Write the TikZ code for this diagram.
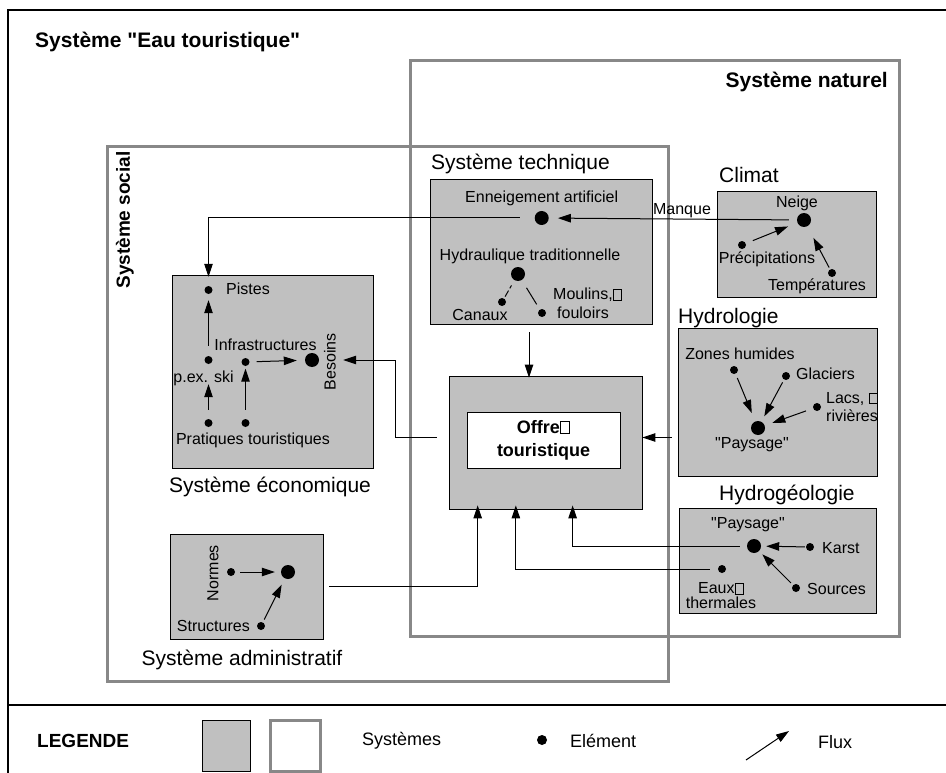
\documentclass[tikz,border=0pt]{standalone}
\usepackage{fontspec}
\setmainfont{Liberation Sans}[Ligatures=TeXOff]
\usetikzlibrary{arrows.meta,calc}
\definecolor{boxgray}{RGB}{192,192,192}
\definecolor{framegray}{RGB}{136,136,136}
% small empty box glyph printed after some words
\newcommand\ebox{{\fboxsep=0pt\fboxrule=0.06em\fbox{\rule{0pt}{0.62em}\rule{0.46em}{0pt}}}}
\newcommand\fsz[2]{\fontsize{#1}{#2}\selectfont}
\begin{document}
\begin{tikzpicture}[x=1pt,y=-1pt,
  every node/.style={inner sep=0pt},
  lbl/.style={font=\fsz{16}{19}},
  syslbl/.style={font=\fsz{21}{25}},
  leglbl/.style={font=\fsz{18}{21}},
  bigsys/.style={draw=framegray,line width=3pt,minimum width=#1},
  sysbox/.style={draw=black,line width=0.8pt,fill=boxgray,minimum width=#1},
  dot/.style={circle,fill=black,minimum size=8pt},
  bigdot/.style={circle,fill=black,minimum size=14pt},
  flow/.style={line width=1pt,-{Triangle[length=13pt,width=8.5pt]}},
  link/.style={line width=1pt}]
\useasboundingbox (0,0) rectangle (946,773);
\fill[white] (0,0) rectangle (946,773);

% outer frame and legend separator
\draw[line width=1.5pt] (8,773) -- (8,10) -- (946,10);
\draw[line width=2pt] (8,705) -- (946,705);
\node[anchor=west,font=\fsz{21}{25}\bfseries] (title) at (35,42) {Système "Eau touristique"};

% large systems
\node[bigsys=489pt,minimum height=575pt] (naturel) at (654.5,348.5) {};
\node[bigsys=561pt,minimum height=534pt] (social) at (387.5,414) {};
\node[anchor=east,font=\fsz{21}{25}\bfseries] (naturelT) at (888,82) {Système naturel};
\node[rotate=90,font=\fsz{19}{23}\bfseries] (socialT) at (125,220) {Système social};

% sub-systems
\node[sysbox=222pt,minimum height=145pt] (tech) at (541,251.5) {};
\node[sysbox=159pt,minimum height=106pt] (climat) at (796.5,244) {};
\node[sysbox=199pt,minimum height=148pt] (hydro) at (777.5,402) {};
\node[sysbox=197pt,minimum height=105pt] (hgeo) at (777.5,560.5) {};
\node[sysbox=201pt,minimum height=193pt] (eco) at (272.5,371.5) {};
\node[sysbox=153pt,minimum height=105pt] (admin) at (246.5,586.5) {};
\node[sysbox=193pt,minimum height=133pt] (offre) at (545.5,442.5) {};
\node[draw=black,line width=0.8pt,fill=white,minimum width=153pt,minimum height=56pt,
      align=center,font=\fsz{18}{23}\bfseries] (offreT) at (543.5,440) {Offre\ebox\\touristique};

\node[syslbl,anchor=west] (techT) at (431,164) {Système technique};
\node[syslbl,anchor=west] (climatT) at (719,175) {Climat};
\node[syslbl,anchor=west] (hydroT) at (678,318) {Hydrologie};
\node[syslbl,anchor=west] (hgeoT) at (719,495) {Hydrogéologie};
\node[syslbl] (ecoT) at (270,487) {Système économique};
\node[syslbl] (adminT) at (242,660) {Système administratif};

% technical system
\node[lbl] (ennT) at (541.7,198) {Enneigement artificiel};
\node[bigdot] (enn) at (541.7,218) {};
\node[lbl] (hydT) at (530,256) {Hydraulique traditionnelle};
\node[bigdot] (hyd) at (518,274) {};
\node[dot] (canaux) at (502,302) {};
\node[lbl] (canauxT) at (480,315) {Canaux};
\node[dot] (moulins) at (542,313) {};
\node[lbl,anchor=west,align=left] (moulinsT) at (553,303.5) {Moulins,\ebox\\\hspace*{4pt}fouloirs};
\draw[link,dash pattern=on 7pt off 2.5pt,shorten <=2pt,shorten >=6pt] (canaux) -- (hyd);
\draw[link,shorten <=6pt,shorten >=9pt] (moulins) -- (hyd);

% climate
\node[lbl] (neigeT) at (797,203) {Neige};
\node[bigdot] (neige) at (804,220) {};
\node[dot] (prec) at (742,245) {};
\node[lbl] (precT) at (767,259) {Précipitations};
\node[dot] (temp) at (832,273) {};
\node[lbl] (tempT) at (817,286) {Températures};
\draw[flow,shorten <=7.5pt,shorten >=10pt] (prec) -- (neige);
\draw[flow,shorten <=2pt,shorten >=13pt] (temp) -- (neige);
\node[lbl] (manqueT) at (682,211) {Manque};
\draw[flow,shorten <=8pt,shorten >=9pt] (neige) -- (enn);

% hydrology
\node[lbl] (zonesT) at (740,354) {Zones humides};
\node[dot] (zones) at (734,370) {};
\node[dot] (glaciers) at (786,376) {};
\node[lbl,anchor=west] (glaciersT) at (796,374) {Glaciers};
\node[dot] (lacs) at (817,407) {};
\node[lbl,anchor=west,align=left,font=\fsz{16}{18}] (lacsT) at (826,407) {Lacs, \ebox\\rivières};
\node[bigdot] (hpay) at (758,428) {};
\node[lbl] (hpayT) at (752,445) {"Paysage"};
\draw[flow,shorten <=4.5pt,shorten >=9pt] (zones) -- (hpay);
\draw[flow,shorten <=3pt,shorten >=6pt] (glaciers) -- (hpay);
\draw[flow,shorten <=7.5pt,shorten >=8pt] (lacs) -- (hpay);

% hydrogeology
\node[lbl] (gpayT) at (748,525) {"Paysage"};
\node[bigdot] (gpay) at (754,546) {};
\node[dot] (karst) at (810,547) {};
\node[lbl,anchor=west] (karstT) at (822,548) {Karst};
\node[dot] (sources) at (796,588) {};
\node[lbl,anchor=west] (sourcesT) at (807,589) {Sources};
\node[dot] (eaux) at (722,569) {};
\node[lbl,align=center,font=\fsz{16}{15}] (eauxT) at (721,596) {Eaux\ebox\\thermales};
\draw[flow,shorten <=1pt,shorten >=5pt] (karst) -- (gpay);
\draw[flow,shorten <=3pt,shorten >=4.5pt] (sources) -- (gpay);

% economic system
\node[dot] (pistes) at (208.5,290) {};
\node[lbl,anchor=west] (pistesT) at (226,289) {Pistes};
\node[dot] (pex) at (208.5,360) {};
\node[lbl] (pexT) at (203.5,378) {p.ex. ski};
\node[dot] (infra) at (245.5,362) {};
\node[lbl] (infraT) at (265.5,345) {Infrastructures};
\node[bigdot] (besoins) at (312,360) {};
\node[lbl,rotate=90] (besoinsT) at (330,362) {Besoins};
\node[dot] (prat1) at (208.5,423) {};
\node[dot] (prat2) at (245.5,423) {};
\node[lbl] (pratT) at (253,440) {Pratiques touristiques};
\draw[flow,shorten <=10pt,shorten >=6pt] (pex) -- (pistes);
\draw[flow,shorten <=7pt,shorten >=8pt] (infra) -- (besoins);
\draw[flow,shorten <=9pt,shorten >=20pt] (prat1) -- (pex);
\draw[flow,shorten <=9pt,shorten >=2.5pt] (prat2) -- (infra);

% administrative system
\node[dot] (normes) at (231,572) {};
\node[lbl,rotate=90] (normesT) at (213,573) {Normes};
\node[bigdot] (adm) at (288,572) {};
\node[dot] (struct) at (261,626) {};
\node[lbl,anchor=east] (structT) at (250,626) {Structures};
\draw[flow,shorten <=5pt,shorten >=6pt] (normes) -- (adm);
\draw[flow,shorten <=3pt,shorten >=7pt] (struct) -- (adm);

% flows between systems
\draw[flow,shorten <=15pt,shorten >=9pt] (enn) -| (pistes);
\coordinate (tS) at ($(tech.south)+(-12,0)$);
\draw[flow,shorten <=8pt,shorten >=-2pt] (tS) -- (tS |- offre.north);
\coordinate (oW) at ($(offre.west)+(0,-5)$);
\draw[flow,shorten <=12pt,shorten >=24pt] (oW) -- ++(-53,0) |- (besoins);
\coordinate (oE) at ($(offre.east)+(0,-5)$);
\draw[flow,shorten <=6pt] (oE -| hydro.west) -- (oE);
\draw[flow,shorten <=7pt,shorten >=-4pt] (gpay) -| ($(offre.south west)!0.64!(offre.south east)$);
\draw[flow,shorten <=8pt,shorten >=-4pt] (eaux) -| ($(offre.south west)!0.347!(offre.south east)$);
\draw[flow,shorten <=6pt,shorten >=-4pt] (admin) -| ($(offre.south west)!0.15!(offre.south east)$);

% legend
\node[anchor=west,font=\fsz{19}{22}\bfseries] (legT) at (37,741) {LEGENDE};
\node[draw=black,line width=0.8pt,fill=boxgray,minimum width=48pt,minimum height=51pt] (legA) at (226,745.5) {};
\node[draw=framegray,line width=3pt,minimum width=50pt,minimum height=51pt] (legB) at (295,745.5) {};
\node[leglbl,anchor=west] (legS) at (362,741) {Systèmes};
\node[circle,fill=black,minimum size=10pt] (legD) at (542,740) {};
\node[leglbl,anchor=west] (legE) at (570,741) {Elément};
\coordinate (legF1) at (746,760);
\coordinate (legF2) at (789,731);
\draw[flow] (legF1) -- (legF2);
\node[leglbl,anchor=west] (legX) at (818,742) {Flux};
\end{tikzpicture}
\end{document}
